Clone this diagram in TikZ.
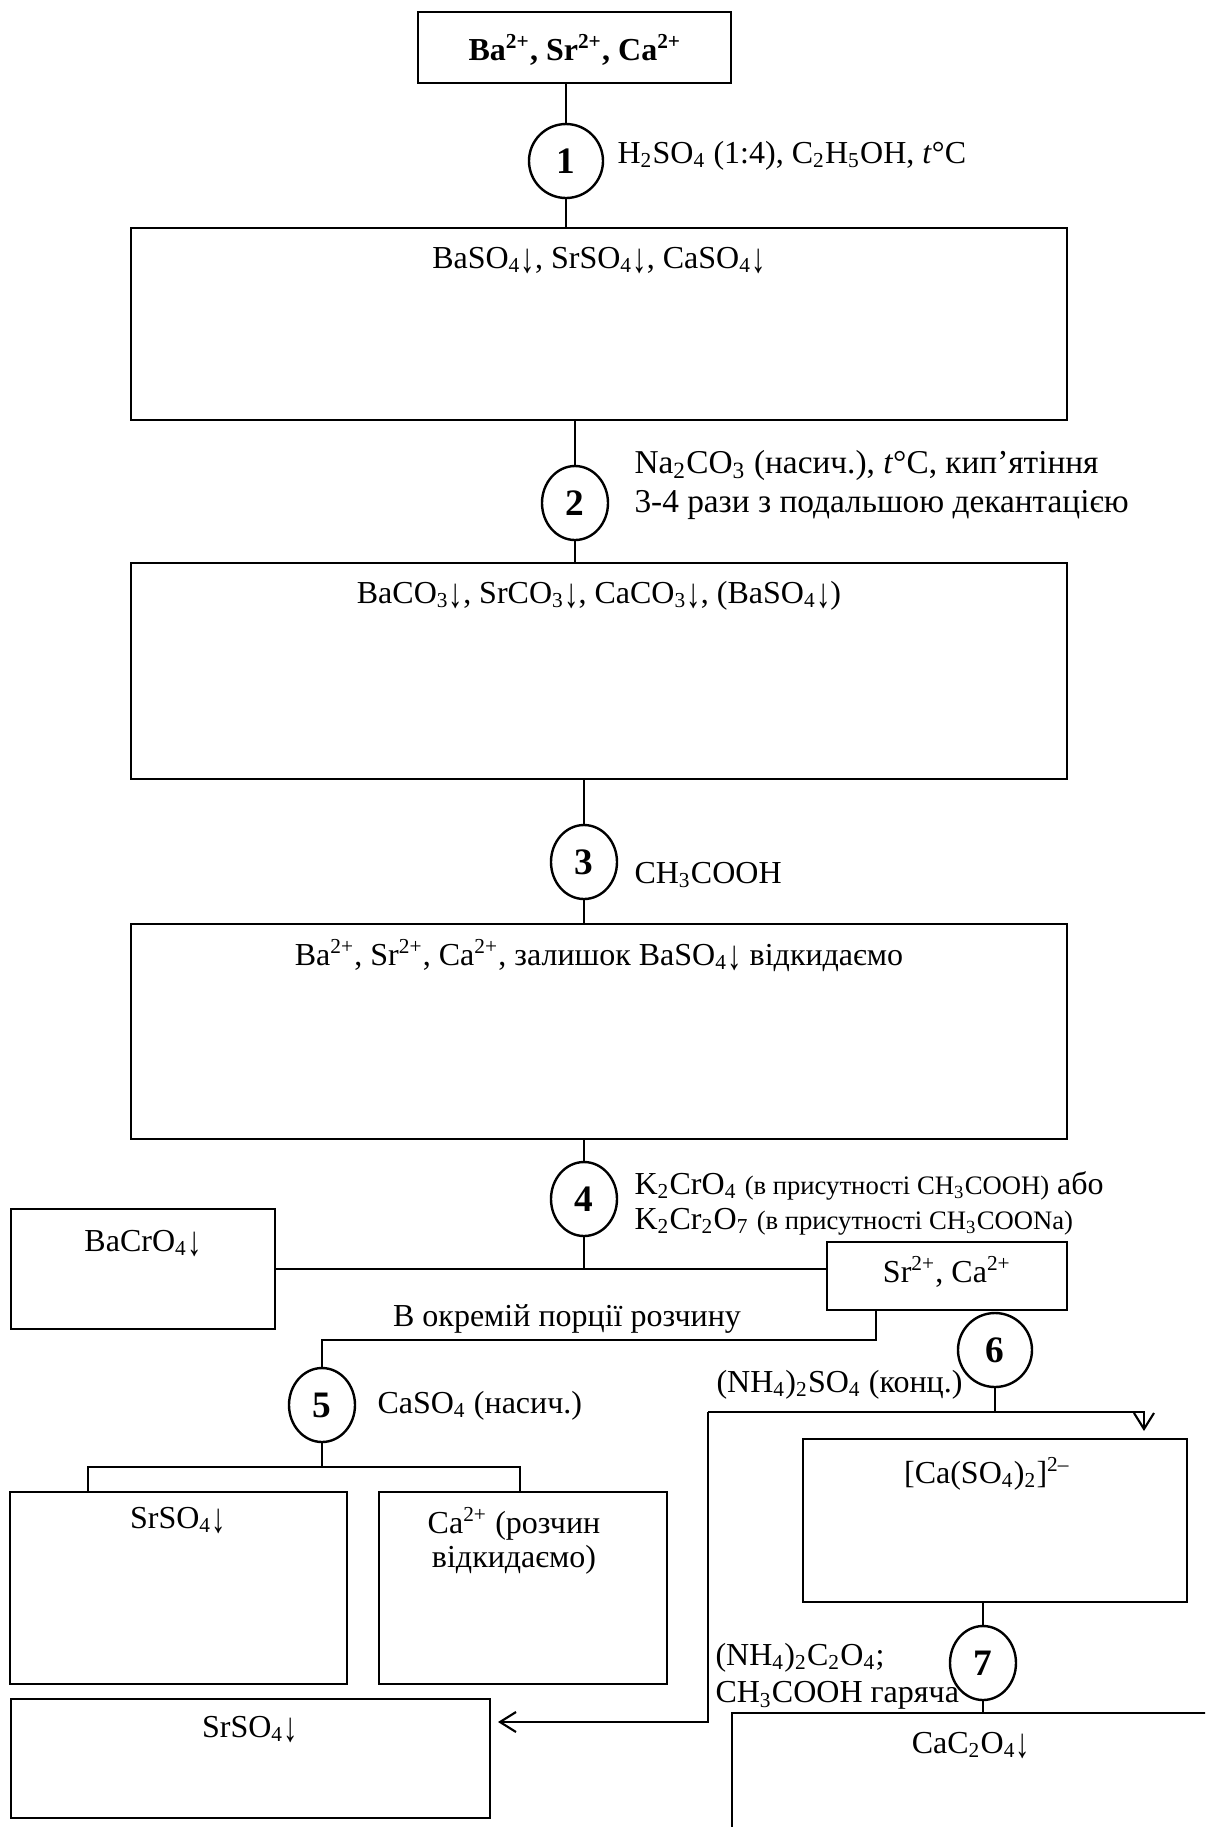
\documentclass[tikz,border=0pt]{standalone}
\usepackage{fontspec}
\usepackage{graphicx}
\setmainfont{Liberation Serif}
\usetikzlibrary{shapes.geometric,fit,arrows.meta}

\newcommand{\chsub}[1]{\textsubscript{#1}}
\newcommand{\chsup}[1]{\textsuperscript{#1}}
\newcommand{\prc}{\raisebox{-0.3ex}{\scalebox{0.9}[1.3]{↓}}}

\begin{document}
\begin{tikzpicture}[
        x=0.375pt, y=-0.375pt,
        font=\fontsize{12}{14}\selectfont,
        sample/.style={rectangle, draw, line width=1pt, inner sep=0pt},
        stage/.style={ellipse, draw, line width=0.9pt, minimum width=24.75pt, minimum height=27.75pt, inner sep=0pt, font=\fontsize{14}{16}\selectfont\bfseries},
        reagent/.style={inner sep=0pt, anchor=base west},
        content/.style={inner sep=0pt, anchor=base},
        link/.style={line width=0.8pt},
        flow/.style={line width=0.8pt, -{Straight Barb[length=6pt, width=7.5pt]}, shorten >=2.5pt}
    ]
        \useasboundingbox (0,0) rectangle (1205,1827);
        \clip (0,0) rectangle (1205,1827);

        % Starting mixture
        \node[sample, fit={(418,12) (731,83)}] (ions) {};
        \node[content, font=\fontsize{12}{14}\selectfont\bfseries] (ions_text) at (575,60) {Ba\chsup{2+}, Sr\chsup{2+}, Ca\chsup{2+}};

        % Main column of boxes
        \node[sample, fit={(131,228) (1067,420)}] (sulfates) {};
        \node[sample, fit={(131,563) (1067,779)}] (carbonates) {};
        \node[sample, fit={(131,924) (1067,1139)}] (solution) {};
        \node[content] (sulfates_text) at (599,268) {BaSO\chsub{4}\prc, SrSO\chsub{4}\prc, CaSO\chsub{4}\prc};
        \node[content] (carbonates_text) at (599,603) {BaCO\chsub{3}\prc, SrCO\chsub{3}\prc, CaCO\chsub{3}\prc, (BaSO\chsub{4}\prc)};
        \node[content] (solution_text) at (599,965) {Ba\chsup{2+}, Sr\chsup{2+}, Ca\chsup{2+}, залишок BaSO\chsub{4}\prc{} відкидаємо};

        % Lower boxes
        \node[sample, fit={(11,1209) (275,1329)}] (ba_chromate) {};
        \node[sample, fit={(827,1242) (1067,1310)}] (sr_ca) {};
        \node[sample, fit={(10,1492) (347,1684)}] (sr_sulfate) {};
        \node[sample, fit={(379,1492) (667,1684)}] (ca_rest) {};
        \node[sample, fit={(803,1439) (1187,1602)}] (ca_complex) {};
        \node[sample, fit={(11,1699) (490,1818)}] (sr_sulfate_2) {};
        \node[sample, fit={(732,1713) (1240,1860)}] (ca_oxalate) {};
        \node[content] (ba_chromate_text) at (143,1251) {BaCrO\chsub{4}\prc};
        \node[content] (sr_ca_text) at (947,1282) {Sr\chsup{2+}, Ca\chsup{2+}};
        \node[content] (sr_sulfate_text) at (178,1528) {SrSO\chsub{4}\prc};
        \node[align=center, inner sep=0pt, font=\fontsize{12}{13.1}\selectfont] (ca_rest_text) at (514,1541) {Ca\chsup{2+} (розчин\\відкидаємо)};
        \node[content] (ca_complex_text) at (987,1483) {[Ca(SO\chsub{4})\chsub{2}]\chsup{2–}};
        \node[content] (sr_sulfate_2_text) at (250,1737) {SrSO\chsub{4}\prc};
        \node[content] (ca_oxalate_text) at (971,1753) {CaC\chsub{2}O\chsub{4}\prc};

        % Numbered operations
        \node[stage, minimum width=27.75pt] (op_1) at (566,161) {1};
        \node[stage] (op_2) at (575,503) {2};
        \node[stage] (op_3) at (584,862) {3};
        \node[stage] (op_4) at (584,1199) {4};
        \node[stage] (op_5) at (322,1405) {5};
        \node[stage, minimum width=27.75pt] (op_6) at (995,1350) {6};
        \node[stage] (op_7) at (983,1663) {7};

        % Reagents
        \node[reagent] (rg_1) at (617,163) {H\chsub{2}SO\chsub{4} (1:4), C\chsub{2}H\chsub{5}OH, \textit{t}°C};
        \node[reagent, anchor=west, align=left, font=\fontsize{12.5}{14.6}\selectfont] (rg_2) at (634,485) {Na\chsub{2}CO\chsub{3} (насич.), \textit{t}°C, кип’ятіння\\3-4 рази з подальшою декантацією};
        \node[reagent] (rg_3) at (634,883) {CH\chsub{3}COOH};
        \node[reagent, anchor=west, align=left, font=\fontsize{12}{13.1}\selectfont] (rg_4) at (634,1203) {K\chsub{2}CrO\chsub{4} {\fontsize{10}{12}\selectfont (в присутності CH\chsub{3}COOH)} або\\K\chsub{2}Cr\chsub{2}O\chsub{7} {\fontsize{10}{12}\selectfont (в присутності CH\chsub{3}COONa)}};
        \node[content] (portion) at (567,1326) {В окремій порції розчину};
        \node[reagent] (rg_5) at (377,1413) {CaSO\chsub{4} (насич.)};
        \node[reagent, anchor=base east] (rg_6) at (963,1392) {(NH\chsub{4})\chsub{2}SO\chsub{4} (конц.)};
        \node[reagent, anchor=west, align=left, font=\fontsize{12}{13.9}\selectfont] (rg_7) at (715,1676) {(NH\chsub{4})\chsub{2}C\chsub{2}O\chsub{4};\\CH\chsub{3}COOH гаряча};

        % Main column connections
        \draw[link] (ions.south -| op_1) -- (op_1);
        \draw[link] (op_1) -- (op_1 |- sulfates.north);
        \draw[link] (sulfates.south -| op_2) -- (op_2);
        \draw[link] (op_2) -- (op_2 |- carbonates.north);
        \draw[link] (carbonates.south -| op_3) -- (op_3);
        \draw[link] (op_3) -- (op_3 |- solution.north);
        \draw[link] (solution.south -| op_4) -- (op_4);
        \draw[link] (op_4) -- (op_4 |- ba_chromate.east);
        \draw[link] (ba_chromate.east) -- (ba_chromate.east -| sr_ca.west);

        % Strontium branch
        \coordinate (split_5) at (876,1340);
        \coordinate (fork_5l) at (88,1467);
        \coordinate (fork_5r) at (520,1467);
        \draw[link] (split_5 |- sr_ca.south) -- (split_5) -| (op_5);
        \draw[link] (op_5) -- (op_5 |- fork_5l);
        \draw[link] (fork_5l |- sr_sulfate.north) -- (fork_5l) -- (fork_5r) -- (fork_5r |- ca_rest.north);

        % Calcium branch
        \coordinate (fork_6l) at (708,1412);
        \coordinate (fork_6r) at (1144,1412);
        \coordinate (turn_6) at (708,1722);
        \draw[link] (op_6) -- (op_6 |- fork_6r);
        \draw[flow] (fork_6l) -- (fork_6r) -- (fork_6r |- ca_complex.north);
        \draw[flow] (fork_6l) -- (turn_6) -- (turn_6 -| sr_sulfate_2.east);
        \draw[link] (ca_complex.south -| op_7) -- (op_7);
        \draw[link] (op_7) -- (op_7 |- ca_oxalate.north);

    \end{tikzpicture}
\end{document}
